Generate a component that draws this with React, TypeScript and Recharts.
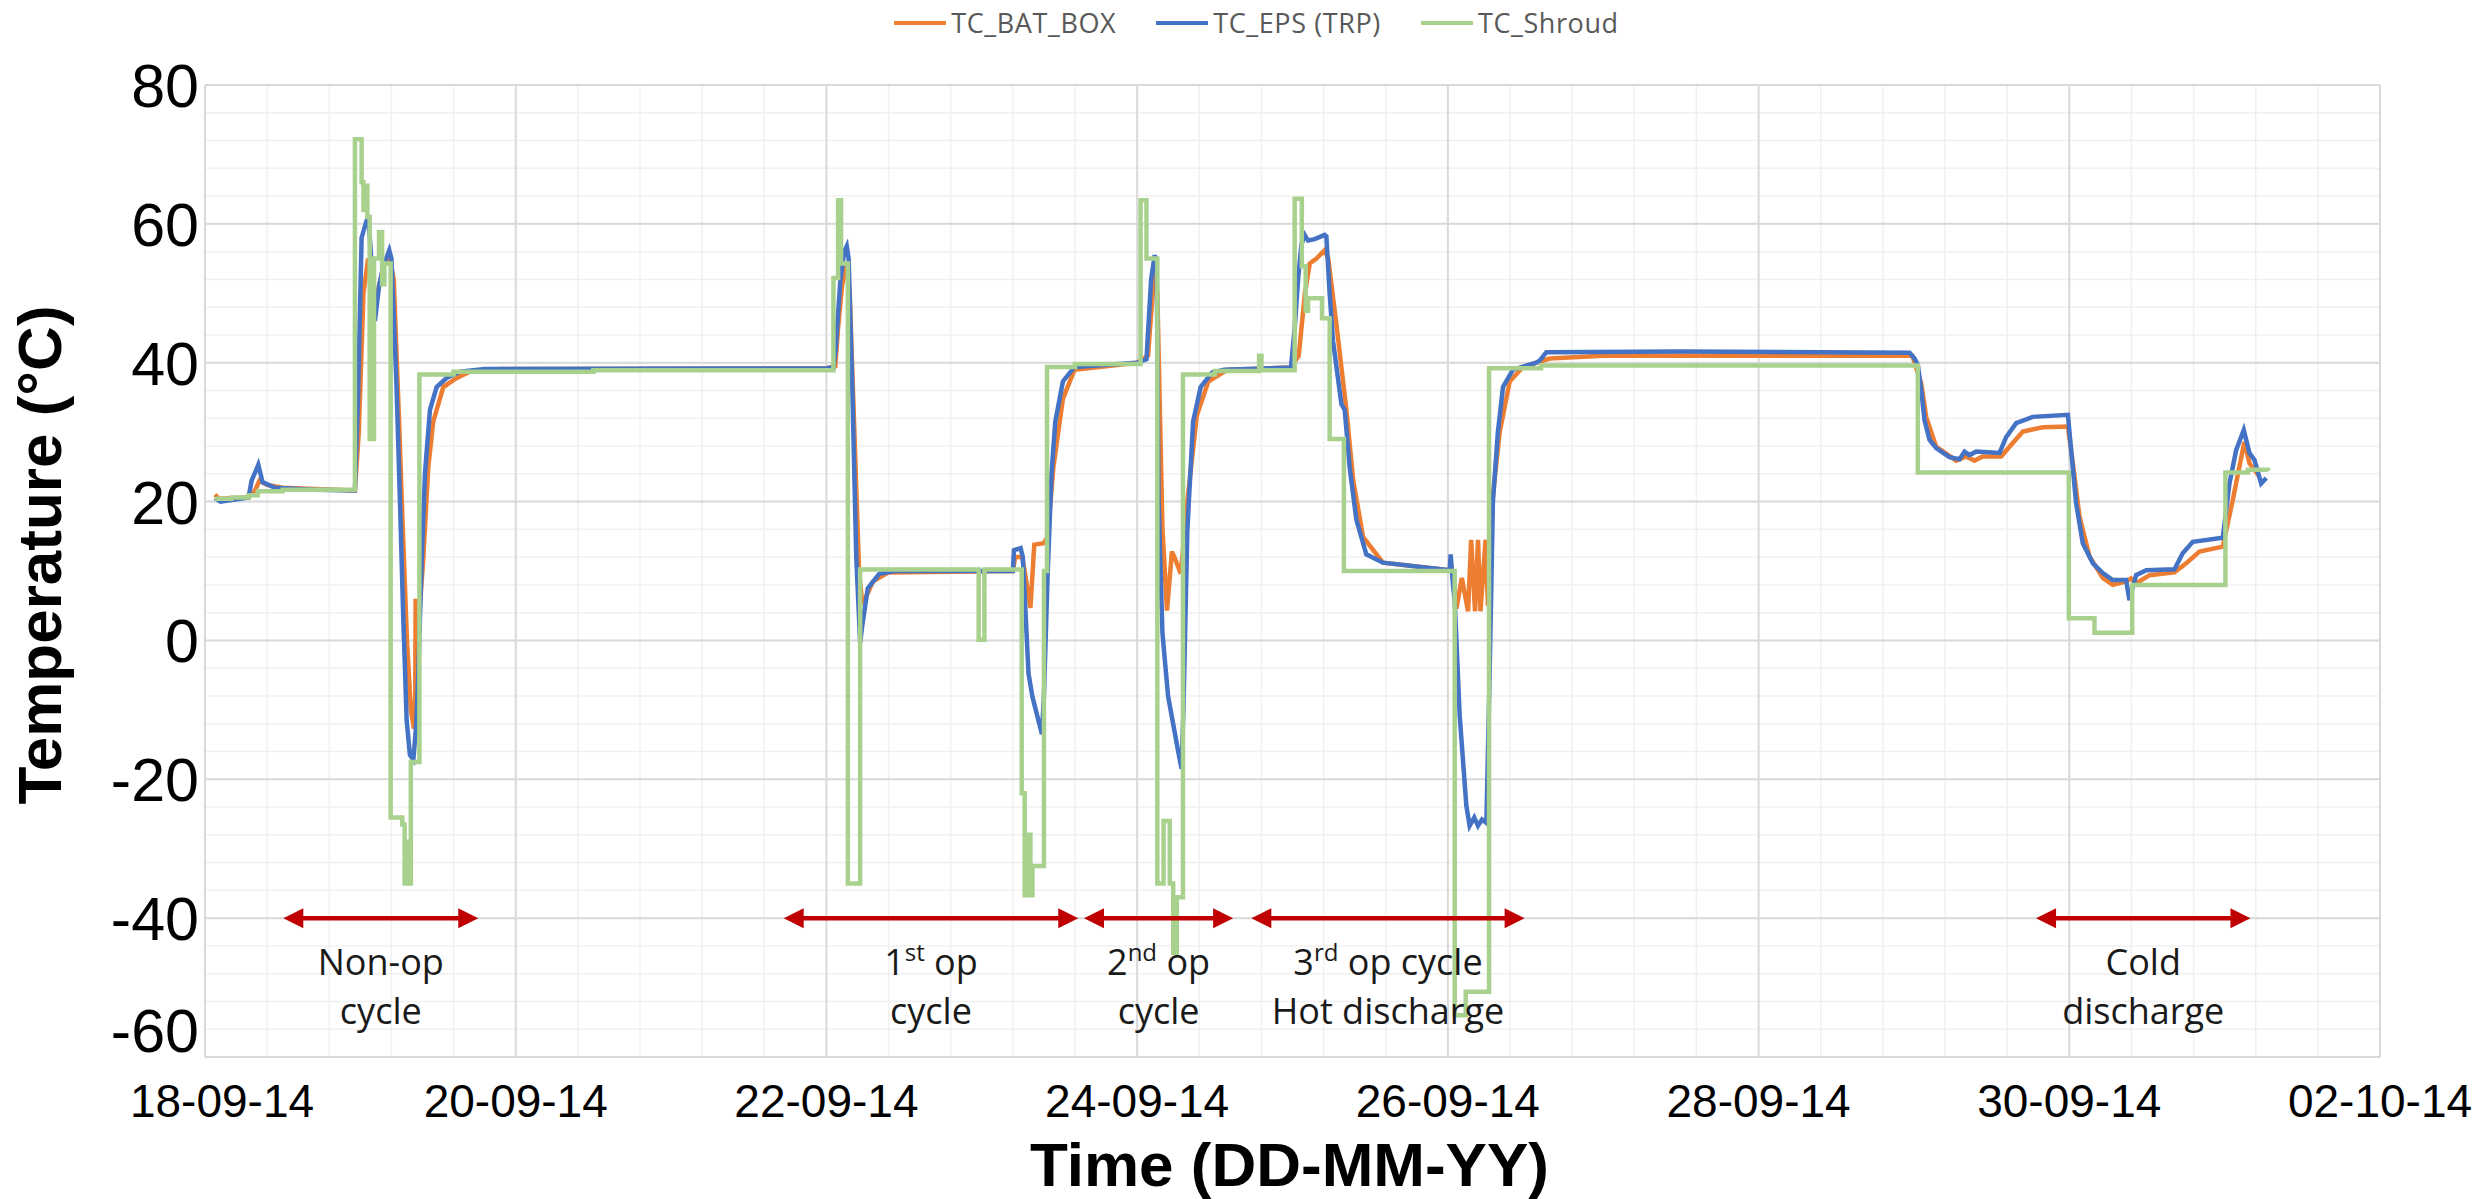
import { CartesianGrid, Legend, Line, LineChart, ReferenceLine, XAxis, YAxis } from "recharts";

const W = 2489;
const H = 1199;

// time in days from 18-09-14 00:00, temperature in °C
const BAT_BOX: [number, number][] = [
  [0.064, 21.0], [0.09, 20.4], [0.28, 20.6], [0.32, 21.5], [0.35, 23.0], [0.4, 22.4], [0.5, 22.0], [0.965, 21.6],
  [0.99, 30.0], [1.02, 50.0], [1.05, 55.0], [1.08, 50.5], [1.1, 49.0], [1.15, 54.0], [1.19, 55.0], [1.215, 52.0],
  [1.25, 31.0], [1.27, 18.0], [1.3, 0.0], [1.325, -10.0], [1.345, -12.7], [1.353, -8.0], [1.356, 6.0], [1.362, -4.0],
  [1.38, 4.0], [1.405, 11.7], [1.437, 24.9], [1.469, 31.5], [1.534, 36.5], [1.62, 37.8], [1.705, 38.7], [1.9, 39.1],
  [4.0, 39.2], [4.057, 39.5], [4.075, 45.0], [4.1, 51.0], [4.131, 54.3], [4.15, 50.0], [4.18, 30.0], [4.21, 10.0],
  [4.23, 5.5], [4.25, 6.0], [4.3, 8.5], [4.4, 9.8], [5.2, 10.0], [5.215, 12.0], [5.26, 12.0], [5.276, 10.0],
  [5.313, 4.7], [5.338, 13.8], [5.4, 14.0], [5.424, 15.0], [5.461, 25.0], [5.522, 34.8], [5.597, 39.0], [6.0, 40.0],
  [6.07, 41.0], [6.1, 50.0], [6.113, 53.0], [6.13, 50.0], [6.163, 16.0], [6.192, 4.3], [6.224, 12.8], [6.24, 12.0],
  [6.281, 9.6], [6.323, 20.0], [6.384, 32.4], [6.458, 37.3], [6.582, 39.0], [6.99, 39.3],
  [7.04, 41.0], [7.08, 50.0], [7.111, 54.3], [7.154, 55.0], [7.207, 56.2], [7.23, 55.0], [7.282, 45.6], [7.347, 33.2],
  [7.39, 23.2], [7.454, 14.9], [7.582, 11.2], [8.012, 10.1], [8.033, 10.0], [8.055, 4.6], [8.09, 9.0], [8.13, 4.2],
  [8.15, 14.5], [8.175, 4.2], [8.194, 14.5], [8.21, 4.2], [8.243, 14.5], [8.258, 5.0], [8.27, 16.6], [8.333, 29.9],
  [8.398, 37.3], [8.483, 39.4], [8.655, 40.6], [9.0, 41.0], [10.99, 41.0],
  [11.047, 37.0], [11.079, 32.2], [11.143, 27.9], [11.272, 25.9], [11.336, 26.5], [11.39, 25.9], [11.443, 26.5],
  [11.562, 26.5], [11.615, 27.9], [11.701, 30.1], [11.83, 30.7], [11.991, 30.8], [12.023, 25.5], [12.066, 17.8],
  [12.13, 12.1], [12.216, 9.0], [12.28, 8.0], [12.366, 8.5], [12.398, 8.95], [12.43, 8.2], [12.516, 9.4], [12.677, 9.8],
  [12.752, 11.1], [12.838, 12.8], [12.988, 13.5], [13.052, 20.2], [13.127, 28.6], [13.16, 25.5], [13.224, 23.6],
];

const EPS_TRP: [number, number][] = [
  [0.064, 20.5], [0.1, 20.0], [0.28, 20.6], [0.3, 23.0], [0.343, 25.3], [0.37, 22.8], [0.45, 22.0], [0.7, 21.7], [0.965, 21.6],
  [0.985, 35.0], [1.008, 58.0], [1.051, 61.3], [1.07, 55.0], [1.094, 46.0], [1.12, 51.0], [1.148, 53.9], [1.186, 56.2], [1.2, 55.0],
  [1.233, 36.5], [1.255, 20.0], [1.276, 3.4], [1.298, -11.5], [1.319, -16.5], [1.341, -17.2], [1.36, -12.0], [1.373, -4.8],
  [1.395, 11.7], [1.416, 24.1], [1.448, 33.2], [1.491, 36.5], [1.555, 37.8], [1.641, 38.7], [1.8, 39.1],
  [4.0, 39.2], [4.045, 39.3], [4.06, 42.0], [4.09, 52.0], [4.115, 56.0], [4.131, 56.8], [4.143, 55.0], [4.168, 35.0], [4.192, 12.0],
  [4.217, -0.3], [4.23, 2.0], [4.266, 7.5], [4.34, 9.6], [4.44, 10.0], [5.2, 10.0], [5.207, 13.0], [5.25, 13.3], [5.264, 12.0],
  [5.301, -4.8], [5.326, -8.1], [5.387, -13.5], [5.4, -8.0], [5.424, 9.6], [5.449, 24.1], [5.473, 31.5], [5.522, 37.3], [5.597, 39.4], [6.0, 40.0],
  [6.06, 40.5], [6.09, 52.0], [6.113, 55.5], [6.126, 54.0], [6.138, 20.0], [6.163, 1.0], [6.199, -8.0], [6.261, -15.6], [6.286, -18.5],
  [6.298, -10.0], [6.323, 15.8], [6.36, 31.5], [6.409, 36.5], [6.483, 38.6], [6.56, 39.0], [6.99, 39.3],
  [7.014, 45.0], [7.036, 52.0], [7.057, 57.0], [7.079, 58.4], [7.1, 57.6], [7.143, 57.8], [7.207, 58.4], [7.218, 58.2], [7.239, 50.0],
  [7.261, 43.1], [7.315, 34.0], [7.336, 33.2], [7.368, 24.9], [7.411, 17.4], [7.475, 12.4], [7.582, 11.2], [8.012, 10.1], [8.018, 12.4],
  [8.033, 8.0], [8.044, 5.7], [8.076, -10.8], [8.119, -23.8], [8.14, -26.7], [8.17, -25.5], [8.194, -26.7], [8.22, -25.8], [8.248, -26.3],
  [8.269, -4.8], [8.29, 20.0], [8.322, 30.0], [8.355, 36.5], [8.419, 39.0], [8.569, 40.0], [8.591, 40.3], [8.634, 41.5], [9.5, 41.6], [10.972, 41.45],
  [11.004, 40.6], [11.025, 39.7], [11.047, 36.1], [11.068, 31.75], [11.1, 28.9], [11.143, 27.7], [11.229, 26.4], [11.293, 26.1], [11.326, 27.2],
  [11.358, 26.7], [11.401, 27.2], [11.551, 27.0], [11.594, 29.3], [11.658, 31.3], [11.765, 32.2], [11.991, 32.5], [12.012, 27.4], [12.044, 19.75],
  [12.087, 14.0], [12.152, 11.1], [12.216, 9.7], [12.28, 8.7], [12.366, 8.7], [12.387, 5.8], [12.43, 9.4], [12.495, 10.1], [12.677, 10.25],
  [12.73, 12.55], [12.795, 14.2], [12.988, 14.8], [13.031, 22.6], [13.074, 27.4], [13.123, 30.3], [13.16, 27.0], [13.192, 26.0], [13.235, 22.6], [13.268, 23.4],
];

// shroud set-points change in steps, each value holds until the next time
const SHROUD: [number, number][] = [
  [0.064, 20.4], [0.17, 20.6], [0.28, 20.9], [0.34, 21.5], [0.5, 21.7],
  [0.965, 72.2], [1.008, 66.0], [1.02, 62.0], [1.03, 65.5], [1.045, 61.0], [1.06, 29.0], [1.088, 55.0], [1.12, 58.8],
  [1.14, 51.3], [1.155, 54.3], [1.195, -25.5], [1.27, -26.5], [1.285, -35.0], [1.295, -29.0], [1.305, -35.0],
  [1.325, -17.5], [1.38, 38.3], [1.6, 38.7], [2.5, 38.9],
  [4.045, 52.2], [4.075, 63.4], [4.094, 54.3], [4.138, -35.0], [4.217, 10.2], [4.98, 0.1], [5.017, 10.2],
  [5.257, -22.0], [5.276, -36.7], [5.3, -28.0], [5.313, -36.7], [5.326, -32.5], [5.4, 10.0], [5.42, 39.4], [5.6, 39.8],
  [6.022, 63.4], [6.06, 55.0], [6.13, -35.0], [6.17, -26.0], [6.21, -35.0], [6.232, -45.0], [6.255, -37.0],
  [6.295, 38.3], [6.5, 38.8], [6.785, 41.0], [6.8, 38.9],
  [7.014, 63.6], [7.06, 53.9], [7.085, 47.5], [7.1, 49.3], [7.19, 46.4], [7.239, 29.0], [7.331, 10.0],
  [8.044, -54.0], [8.115, -50.6], [8.265, 39.2], [8.6, 39.6],
  [11.025, 24.2], [11.997, 3.2], [12.162, 1.1], [12.405, 8.0], [13.005, 24.2], [13.15, 24.6], [13.278, 24.4],
];

const DAY_TICKS = [0, 2, 4, 6, 8, 10, 12, 14];
const DAY_LABELS = ["18-09-14", "20-09-14", "22-09-14", "24-09-14", "26-09-14", "28-09-14", "30-09-14", "02-10-14"];
const TEMP_TICKS = [-60, -40, -20, 0, 20, 40, 60, 80];

type Cycle = { from: number; to: number; head: string; sup: string; tail: string; second: string };
const CYCLES: Cycle[] = [
  { from: 0.504, to: 1.759, head: "Non-op", sup: "", tail: "", second: "cycle" },
  { from: 3.725, to: 5.621, head: "1", sup: "st", tail: " op", second: "cycle" },
  { from: 5.658, to: 6.618, head: "2", sup: "nd", tail: " op", second: "cycle" },
  { from: 6.735, to: 8.494, head: "3", sup: "rd", tail: " op cycle", second: "Hot discharge" },
  { from: 11.786, to: 13.166, head: "Cold", sup: "", tail: "", second: "discharge" },
];
const CYCLE_LEVEL = -40;

// light grid every 0.4 day and every 4 °C
const MINOR_DAYS = Array.from({ length: 36 }, (_, i) => +(i * 0.4).toFixed(1));
const MINOR_TEMPS = Array.from({ length: 36 }, (_, i) => -60 + i * 4);

const rows = (pts: [number, number][]) => pts.map(([t, v]) => ({ t, v }));

const AXIS_FONT = "'Liberation Sans', Arial, sans-serif";
const NOTE_FONT = "'Open Sans', sans-serif";
const RED = "#C00000";

function XTick({ x, y, payload }: any) {
  const i = DAY_TICKS.indexOf(payload.value);
  return (
    <text x={x + (i === 0 ? 17 : 0)} y={y + 52} textAnchor="middle" fontSize={46} fontFamily={AXIS_FONT} fill="#000">
      {DAY_LABELS[i]}
    </text>
  );
}

function YTick({ x, y, payload }: any) {
  // the bottom label sits above its gridline in the original
  const lift = payload.value === TEMP_TICKS[0] ? 27 : 0;
  return (
    <text x={x} y={y - lift} dy="0.36em" textAnchor="end" fontSize={61} fontFamily={AXIS_FONT} fill="#000">
      {payload.value}
    </text>
  );
}

function YTitle({ viewBox }: any) {
  const x = viewBox.x + viewBox.width - 144;
  const y = viewBox.y + viewBox.height / 2 - 16;
  return (
    <text x={x} y={y} transform={`rotate(-90, ${x}, ${y})`} textAnchor="middle" fontSize={62} fontWeight="bold" fontFamily={AXIS_FONT} fill="#000">
      Temperature (°C)
    </text>
  );
}

function XTitle({ viewBox }: any) {
  return (
    <text x={viewBox.x + viewBox.width / 2 - 3} y={viewBox.y + 129} textAnchor="middle" fontSize={62} fontWeight="bold" fontFamily={AXIS_FONT} fill="#000">
      Time (DD-MM-YY)
    </text>
  );
}

function CycleMark({ x1, x2, y1, cycle }: any) {
  const len = 20;
  const half = 10;
  const mid = (x1 + x2) / 2;
  return (
    <g>
      <line x1={x1 + len - 2} x2={x2 - len + 2} y1={y1} y2={y1} stroke={RED} strokeWidth={4.5} />
      <polygon points={`${x1},${y1} ${x1 + len},${y1 - half} ${x1 + len},${y1 + half}`} fill={RED} />
      <polygon points={`${x2},${y1} ${x2 - len},${y1 - half} ${x2 - len},${y1 + half}`} fill={RED} />
      <text x={mid} y={y1 + 57} textAnchor="middle" fontSize={36} fontFamily={NOTE_FONT} fill="#1a1a1a">
        {cycle.head}
        {cycle.sup && (
          <tspan dy={-14} fontSize={24}>
            {cycle.sup}
          </tspan>
        )}
        {cycle.sup ? <tspan dy={14}>{cycle.tail}</tspan> : cycle.tail}
      </text>
      <text x={mid} y={y1 + 106} textAnchor="middle" fontSize={36} fontFamily={NOTE_FONT} fill="#1a1a1a">
        {cycle.second}
      </text>
    </g>
  );
}

function LegendRow({ payload }: any) {
  return (
    <div style={{ display: "flex", justifyContent: "center", gap: 40, paddingLeft: 24, fontFamily: NOTE_FONT, fontSize: 27, color: "#595959", letterSpacing: 0.6, lineHeight: "34px" }}>
      {(payload || []).map((p: any) => (
        <div key={p.value} style={{ display: "flex", alignItems: "center", gap: 5 }}>
          <span style={{ display: "inline-block", width: 52, height: 4.5, background: p.color }} />
          <span>{p.value}</span>
        </div>
      ))}
    </div>
  );
}

export default function App() {
  return (
    <div style={{ position: "absolute", left: 0, top: 0, width: W, height: H, background: "#fff" }}>
      <LineChart width={W} height={H} margin={{ top: 85, right: 109, bottom: 82, left: 105 }}>
        <CartesianGrid stroke="#F0F0F0" strokeWidth={1.5} horizontalValues={MINOR_TEMPS} verticalValues={MINOR_DAYS} />
        <CartesianGrid stroke="#D9D9D9" strokeWidth={2} horizontalValues={TEMP_TICKS} verticalValues={DAY_TICKS} />
        <XAxis
          type="number"
          dataKey="t"
          domain={[0, 14]}
          ticks={DAY_TICKS}
          interval={0}
          height={60}
          axisLine={false}
          tickLine={false}
          allowDataOverflow
          tick={(p: any) => <XTick {...p} />}
          label={{ content: (p: any) => <XTitle {...p} /> }}
        />
        <YAxis
          type="number"
          domain={[-60, 80]}
          ticks={TEMP_TICKS}
          interval={0}
          width={100}
          axisLine={false}
          tickLine={false}
          tickMargin={0}
          allowDataOverflow
          tick={(p: any) => <YTick {...p} />}
          label={{ content: (p: any) => <YTitle {...p} /> }}
        />
        <Legend verticalAlign="middle" align="center" layout="horizontal" wrapperStyle={{ top: 6, left: 0, width: W }} content={(p: any) => <LegendRow {...p} />} />
        <Line data={rows(BAT_BOX)} dataKey="v" name="TC_BAT_BOX" type="linear" stroke="#ED7D31" strokeWidth={4.5} dot={false} activeDot={false} isAnimationActive={false} />
        <Line data={rows(EPS_TRP)} dataKey="v" name="TC_EPS (TRP)" type="linear" stroke="#4472C4" strokeWidth={4.5} dot={false} activeDot={false} isAnimationActive={false} />
        <Line data={rows(SHROUD)} dataKey="v" name="TC_Shroud" type="stepAfter" stroke="#A9D18E" strokeWidth={4.5} dot={false} activeDot={false} isAnimationActive={false} />
        {CYCLES.map((c) => (
          <ReferenceLine
            key={c.second + c.from}
            segment={[{ x: c.from, y: CYCLE_LEVEL }, { x: c.to, y: CYCLE_LEVEL }]}
            ifOverflow="visible"
            shape={(p: any) => <CycleMark {...p} cycle={c} />}
          />
        ))}
      </LineChart>
    </div>
  );
}
